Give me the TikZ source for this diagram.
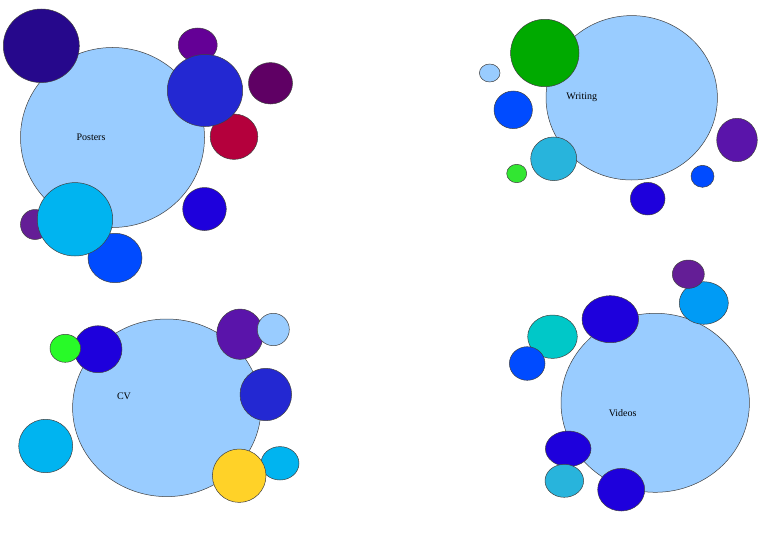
\documentclass[tikz,border=0pt]{standalone}
\usepackage{fontspec}
\setmainfont{Liberation Serif}
\definecolor{bigblue}{RGB}{153,204,255}
\definecolor{navy}{RGB}{38,8,140}
\definecolor{purpA}{RGB}{100,0,150}
\definecolor{royal}{RGB}{35,40,210}
\definecolor{plum}{RGB}{95,0,100}
\definecolor{crimson}{RGB}{180,0,60}
\definecolor{violetblue}{RGB}{30,0,220}
\definecolor{purpB}{RGB}{100,30,150}
\definecolor{cyanA}{RGB}{0,180,240}
\definecolor{blueA}{RGB}{0,75,255}
\definecolor{greenA}{RGB}{0,170,0}
\definecolor{tealA}{RGB}{40,180,220}
\definecolor{limeA}{RGB}{50,230,50}
\definecolor{purpC}{RGB}{90,20,170}
\definecolor{limeB}{RGB}{40,250,40}
\definecolor{yellowA}{RGB}{255,210,40}
\definecolor{skyA}{RGB}{0,155,245}
\definecolor{turq}{RGB}{0,200,200}
\begin{document}
\begin{tikzpicture}[x=1pt,y=-1pt,
  bub/.style={draw=black!75,line width=0.5pt},
  lbl/.style={font=\fontsize{10}{12}\selectfont,inner sep=0pt}]
\useasboundingbox (0,0) rectangle (768,543);
% ---------------- Posters ----------------
\filldraw[bub,fill=purpA] (197.7,45) ellipse [x radius=19.5,y radius=17];
\filldraw[bub,fill=bigblue] (112.5,137.5) ellipse [x radius=92,y radius=90];
\filldraw[bub,fill=navy] (41.3,45.8) ellipse [x radius=38,y radius=36.8];
\filldraw[bub,fill=plum] (270.5,83.3) ellipse [x radius=22,y radius=20.7];
\filldraw[bub,fill=crimson] (234,136.7) ellipse [x radius=23.8,y radius=22.7];
\filldraw[bub,fill=royal] (205,90.5) ellipse [x radius=37.7,y radius=36];
\filldraw[bub,fill=violetblue] (204.5,209) ellipse [x radius=21.8,y radius=21.5];
\filldraw[bub,fill=purpB] (35,224.5) ellipse [x radius=14.5,y radius=15];
\filldraw[bub,fill=blueA] (115,258) ellipse [x radius=27,y radius=24.7];
\filldraw[bub,fill=cyanA] (75,219.3) ellipse [x radius=37.7,y radius=36.7];
\node[lbl] (posters) at (91,137.7) {Posters};
% ---------------- Writing ----------------
\filldraw[bub,fill=bigblue] (631.7,97.8) ellipse [x radius=85.7,y radius=82.2];
\filldraw[bub,fill=greenA] (544.8,53) ellipse [x radius=34.2,y radius=33.7];
\filldraw[bub,fill=bigblue] (489.7,73) ellipse [x radius=10.3,y radius=9];
\filldraw[bub,fill=blueA] (513.2,109.8) ellipse [x radius=19.2,y radius=18.8];
\filldraw[bub,fill=tealA] (553.7,158.8) ellipse [x radius=23,y radius=21.8];
\filldraw[bub,fill=limeA] (516.7,173.5) ellipse [x radius=10,y radius=9.2];
\filldraw[bub,fill=violetblue] (647.7,198.7) ellipse [x radius=17.3,y radius=16.3];
\filldraw[bub,fill=blueA] (702.5,176.3) ellipse [x radius=11.5,y radius=11];
\filldraw[bub,fill=purpC] (737,140) ellipse [x radius=20.3,y radius=21.7];
\node[lbl] (writing) at (581.7,97.7) {Writing};
% ---------------- CV ----------------
\filldraw[bub,fill=bigblue] (166.8,407.8) ellipse [x radius=94.2,y radius=88.8];
\filldraw[bub,fill=violetblue] (98,349.2) ellipse [x radius=24,y radius=23.5];
\filldraw[bub,fill=limeB] (65.3,348.3) ellipse [x radius=15.3,y radius=14];
\filldraw[bub,fill=purpC] (240,334.2) ellipse [x radius=23.3,y radius=25.2];
\filldraw[bub,fill=bigblue] (273.3,329.5) ellipse [x radius=16,y radius=16.2];
\filldraw[bub,fill=royal] (265.8,394.5) ellipse [x radius=25.8,y radius=26.2];
\filldraw[bub,fill=cyanA] (45.7,446) ellipse [x radius=27,y radius=26.7];
\filldraw[bub,fill=cyanA] (280,463.3) ellipse [x radius=19,y radius=16.7];
\filldraw[bub,fill=yellowA] (239.2,475.7) ellipse [x radius=26.8,y radius=26.7];
\node[lbl] (cv) at (124,396) {CV};
% ---------------- Videos ----------------
\filldraw[bub,fill=bigblue] (655.2,402.8) ellipse [x radius=94.2,y radius=89.5];
\filldraw[bub,fill=skyA] (703.8,303) ellipse [x radius=24.5,y radius=21.3];
\filldraw[bub,fill=purpB] (688.3,274.2) ellipse [x radius=16,y radius=14.2];
\filldraw[bub,fill=violetblue] (610.3,319.2) ellipse [x radius=28.3,y radius=23.5];
\filldraw[bub,fill=turq] (552.5,336.7) ellipse [x radius=24.8,y radius=21.7];
\filldraw[bub,fill=blueA] (527.2,363.5) ellipse [x radius=17.8,y radius=16.8];
\filldraw[bub,fill=violetblue] (568.2,448.8) ellipse [x radius=22.8,y radius=17.8];
\filldraw[bub,fill=tealA] (564.3,480.8) ellipse [x radius=19.3,y radius=16.5];
\filldraw[bub,fill=violetblue] (621.2,489.7) ellipse [x radius=23.5,y radius=21.3];
\node[lbl] (videos) at (622.7,413.3) {Videos};
\end{tikzpicture}
\end{document}
